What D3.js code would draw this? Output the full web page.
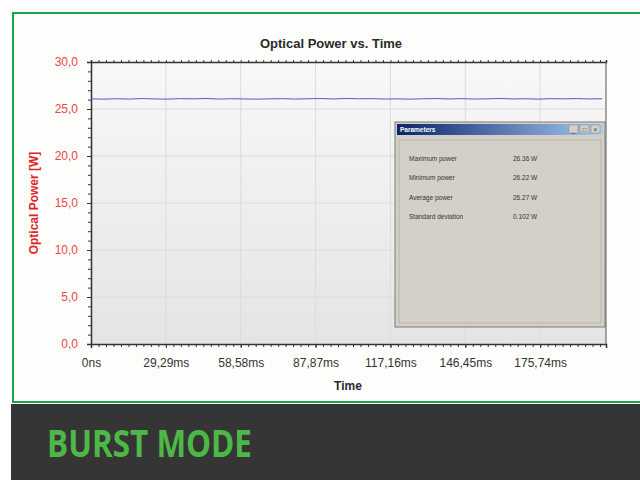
<!DOCTYPE html>
<meta charset="utf-8">
<style>
body { margin: 0; background: white; }
svg { display: block; }
.title { font: bold 13px "Liberation Sans", Arial, sans-serif; fill: #2a2a2a; text-anchor: middle; }
.ylab { font: bold 12px "Liberation Sans", Arial, sans-serif; fill: #e02424; text-anchor: middle; }
.xlab { font: bold 12px "Liberation Sans", Arial, sans-serif; fill: #2a2a2a; text-anchor: middle; }
.yaxis text { font: 12px "Liberation Sans", Arial, sans-serif; fill: #e8474a; }
.xaxis text { font: 12px "Liberation Sans", Arial, sans-serif; fill: #333; }
.axis path, .axis line { stroke: #333; }
.grid line { stroke: #dcdcdc; }
.dlg text { font: 6.5px "Liberation Sans", Arial, sans-serif; fill: #333; }
.banner { font: bold 37px "Open Sans", "Liberation Sans", sans-serif; fill: #4db848; }
</style>
<svg></svg>
<script src="https://cdn.jsdelivr.net/npm/d3@7"></script>
<script>

var width = 640;
var height = 480;

// time axis ticks (ms) and labels
var timeTicks = [0, 29.29, 58.58, 87.87, 117.16, 146.45, 175.74];
var timeLabels = ['0ns', '29,29ms', '58,58ms', '87,87ms', '117,16ms', '146,45ms', '175,74ms'];
var timeMax = 201.5;

var powerTicks = [0, 5, 10, 15, 20, 25, 30];

// measured optical power [W], sampled every 5 ms
var power = [26.08, 26.05, 26.09, 26.06, 26.11, 26.07, 26.05, 26.1, 26.08, 26.12,
  26.06, 26.09, 26.07, 26.05, 26.08, 26.1, 26.06, 26.09, 26.11, 26.07,
  26.12, 26.09, 26.1, 26.06, 26.08, 26.05, 26.09, 26.11, 26.07, 26.1,
  26.06, 26.08, 26.12, 26.07, 26.09, 26.05, 26.1, 26.08, 26.11, 26.07, 26.09];
var sampleStep = 5;

var paramNames = ['Maximum power', 'Minimum power', 'Average power', 'Standard deviation'];
var paramValues = ['26.36 W', '26.22 W', '26.27 W', '0.102 W'];

var svg = d3.select('svg')
  .attr('width', width)
  .attr('height', height);

var margin = { left: 91, right: 606, top: 62, bottom: 344 };

var x = d3.scaleLinear().domain([0, timeMax]).range([margin.left, margin.right]);
var y = d3.scaleLinear().domain([0, 30]).range([margin.bottom, margin.top]);

var defs = svg.append('defs');
var bg = defs.append('linearGradient').attr('id', 'plotbg')
  .attr('x1', 0).attr('y1', 0).attr('x2', 0).attr('y2', 1);
bg.append('stop').attr('offset', '0%').attr('stop-color', '#f8f8f8');
bg.append('stop').attr('offset', '100%').attr('stop-color', '#e4e4e4');

var tb = defs.append('linearGradient').attr('id', 'titlebar')
  .attr('x1', 0).attr('y1', 0).attr('x2', 1).attr('y2', 0);
tb.append('stop').attr('offset', '0%').attr('stop-color', '#0a246a');
tb.append('stop').attr('offset', '100%').attr('stop-color', '#a6caf0');

// outer frame
svg.append('rect')
  .attr('x', 13).attr('y', 13).attr('width', 640).attr('height', 389)
  .attr('fill', '#fdfdfc').attr('stroke', '#1fa34a').attr('stroke-width', 2);

// plot background
svg.append('rect')
  .attr('x', margin.left).attr('y', margin.top)
  .attr('width', margin.right - margin.left).attr('height', margin.bottom - margin.top)
  .attr('fill', 'url(#plotbg)');

// grid
var grid = svg.append('g').attr('class', 'grid');
grid.selectAll('.gy').data(powerTicks.slice(1, -1)).enter().append('line')
  .attr('x1', margin.left).attr('x2', margin.right)
  .attr('y1', function (d) { return y(d); }).attr('y2', function (d) { return y(d); });
grid.selectAll('.gx').data(timeTicks.slice(1)).enter().append('line')
  .attr('y1', margin.top).attr('y2', margin.bottom)
  .attr('x1', function (d) { return x(d); }).attr('x2', function (d) { return x(d); });

// minor tick values
var minorX = [];
for (var t = 0; t <= timeMax; t += 29.29 / 10) minorX.push(t);
var minorY = d3.range(0, 30.01, 1);

// axes
var fmtY = function (d) { return d.toFixed(1).replace('.', ','); };

svg.append('g').attr('class', 'axis yaxis')
  .attr('transform', 'translate(' + margin.left + ',0)')
  .call(d3.axisLeft(y).tickValues(powerTicks).tickFormat(fmtY).tickSize(4).tickPadding(9))
  .call(function (g) { g.select('.domain').attr('stroke-width', 1.5); });

svg.append('g').attr('class', 'axis')
  .attr('transform', 'translate(' + margin.left + ',0)')
  .call(d3.axisLeft(y).tickValues(minorY).tickFormat('').tickSize(3))
  .call(function (g) { g.select('.domain').remove(); });

svg.append('g').attr('class', 'axis xaxis')
  .attr('transform', 'translate(0,' + margin.bottom + ')')
  .call(d3.axisBottom(x).tickValues(timeTicks)
    .tickFormat(function (d, i) { return timeLabels[i]; }).tickSize(4).tickPadding(10))
  .call(function (g) { g.select('.domain').attr('stroke-width', 1.5); });

svg.append('g').attr('class', 'axis')
  .attr('transform', 'translate(0,' + margin.bottom + ')')
  .call(d3.axisBottom(x).tickValues(minorX).tickFormat('').tickSize(3))
  .call(function (g) { g.select('.domain').remove(); });

svg.append('g').attr('class', 'axis')
  .attr('transform', 'translate(0,' + margin.top + ')')
  .call(d3.axisTop(x).tickValues(minorX).tickFormat('').tickSize(2))
  .call(function (g) { g.select('.domain').attr('stroke-width', 1.5); });

svg.append('line')
  .attr('x1', margin.right).attr('x2', margin.right)
  .attr('y1', margin.top).attr('y2', margin.bottom)
  .attr('stroke', '#555');

// data line
var line = d3.line()
  .x(function (d, i) { return x(i * sampleStep); })
  .y(function (d) { return y(d); });

svg.append('path')
  .datum(power)
  .attr('d', line)
  .attr('fill', 'none')
  .attr('stroke', '#5555dd')
  .attr('stroke-width', 1);

// labels
svg.append('text').attr('class', 'title').attr('x', 331).attr('y', 48).text('Optical Power vs. Time');
svg.append('text').attr('class', 'xlab').attr('x', 348).attr('y', 390).text('Time');
svg.append('text').attr('class', 'ylab')
  .attr('transform', 'translate(38,' + (margin.top + margin.bottom) / 2 + ') rotate(-90)')
  .text('Optical Power [W]');

// parameters dialog
var dlg = svg.append('g').attr('class', 'dlg').attr('transform', 'translate(395,122)');
dlg.append('rect').attr('width', 210).attr('height', 205)
  .attr('fill', '#d4d0c8').attr('stroke', '#7a7a7a');
dlg.append('rect').attr('x', 2).attr('y', 2).attr('width', 206).attr('height', 11)
  .attr('fill', 'url(#titlebar)');
dlg.append('text').attr('x', 5).attr('y', 10)
  .style('fill', '#fff').style('font-weight', 'bold').text('Parameters');
['_', '\u25a1', '\u00d7'].forEach(function (s, i) {
  dlg.append('rect').attr('x', 174 + i * 11).attr('y', 3).attr('width', 9).attr('height', 8)
    .attr('fill', '#d4d0c8').attr('stroke', '#888').attr('stroke-width', 0.5);
  dlg.append('text').attr('x', 178.5 + i * 11).attr('y', 9.5)
    .attr('text-anchor', 'middle').text(s);
});
dlg.append('rect').attr('x', 4).attr('y', 18).attr('width', 202).attr('height', 183)
  .attr('fill', 'none').attr('stroke', '#b8b4ac');

var rowY = d3.scalePoint().domain(paramNames).range([39, 97]);
dlg.selectAll('.pn').data(paramNames).enter().append('text')
  .attr('x', 14).attr('y', function (d) { return rowY(d); }).text(function (d) { return d; });
dlg.selectAll('.pv').data(paramValues).enter().append('text')
  .attr('x', 118).attr('y', function (d, i) { return rowY(paramNames[i]); }).text(function (d) { return d; });

// banner
svg.append('rect').attr('x', 11).attr('y', 404).attr('width', 629).attr('height', 76).attr('fill', '#353535');
svg.append('text').attr('class', 'banner').attr('x', 47).attr('y', 457)
  .attr('textLength', 205).attr('lengthAdjust', 'spacingAndGlyphs')
  .text('BURST MODE');

</script>
